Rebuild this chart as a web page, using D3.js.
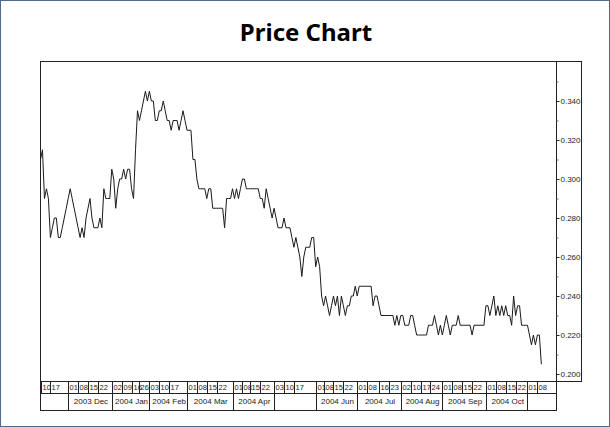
<!DOCTYPE html>
<html>
<head>
<meta charset="utf-8">
<script src="https://cdn.jsdelivr.net/npm/d3@7"></script>
<style>
  html, body { margin: 0; padding: 0; background: #fff; }
  svg { display: block; }
  .small { font-family: "Liberation Sans", Arial, sans-serif; font-size: 8px; fill: #222; }
  .wk { font-size: 7.5px; }
</style>
</head>
<body>
<svg id="chart" width="610" height="427"></svg>
<script>
// daily closing prices, one per trading day from 2003-11-10
const closePrices = [
  0.310, 0.315, 0.290, 0.295, 0.290, 0.270, 0.275, 0.280, 0.280, 0.270,
  0.270, 0.275, 0.280, 0.285, 0.290, 0.295, 0.290, 0.285, 0.280, 0.275,
  0.270, 0.275, 0.270, 0.280, 0.285, 0.290, 0.280, 0.275, 0.275, 0.275,
  0.280, 0.275, 0.295, 0.290, 0.290, 0.290, 0.305, 0.300, 0.285, 0.295,
  0.300, 0.300, 0.305, 0.300, 0.305, 0.305, 0.295, 0.290, 0.315, 0.335,
  0.330, 0.335, 0.340, 0.345, 0.340, 0.345, 0.340, 0.340, 0.330, 0.330,
  0.335, 0.335, 0.340, 0.335, 0.330, 0.330, 0.325, 0.330, 0.330, 0.330,
  0.325, 0.330, 0.335, 0.330, 0.325, 0.325, 0.325, 0.310, 0.310, 0.300,
  0.295, 0.295, 0.295, 0.295, 0.290, 0.295, 0.295, 0.285, 0.285, 0.285,
  0.285, 0.285, 0.285, 0.275, 0.290, 0.290, 0.290, 0.295, 0.290, 0.295,
  0.290, 0.295, 0.300, 0.300, 0.295, 0.295, 0.295, 0.295, 0.295, 0.295,
  0.295, 0.290, 0.290, 0.285, 0.295, 0.290, 0.285, 0.280, 0.285, 0.280,
  0.275, 0.275, 0.275, 0.280, 0.275, 0.275, 0.275, 0.270, 0.265, 0.270,
  0.265, 0.260, 0.250, 0.260, 0.265, 0.265, 0.265, 0.270, 0.270, 0.255,
  0.260, 0.255, 0.240, 0.235, 0.240, 0.235, 0.230, 0.235, 0.240, 0.235,
  0.240, 0.230, 0.240, 0.235, 0.230, 0.235, 0.235, 0.240, 0.240, 0.245,
  0.240, 0.245, 0.245, 0.245, 0.245, 0.245, 0.245, 0.245, 0.235, 0.240,
  0.240, 0.235, 0.230, 0.230, 0.230, 0.230, 0.230, 0.230, 0.230, 0.225,
  0.230, 0.225, 0.230, 0.230, 0.225, 0.225, 0.225, 0.230, 0.230, 0.225,
  0.220, 0.220, 0.220, 0.220, 0.220, 0.220, 0.225, 0.225, 0.225, 0.230,
  0.225, 0.220, 0.225, 0.220, 0.225, 0.230, 0.225, 0.220, 0.225, 0.225,
  0.225, 0.230, 0.225, 0.225, 0.225, 0.225, 0.225, 0.225, 0.220, 0.225,
  0.225, 0.225, 0.225, 0.225, 0.225, 0.235, 0.235, 0.230, 0.235, 0.240,
  0.230, 0.235, 0.230, 0.235, 0.230, 0.235, 0.230, 0.230, 0.225, 0.240,
  0.230, 0.235, 0.235, 0.225, 0.225, 0.225, 0.225, 0.220, 0.215, 0.220,
  0.215, 0.220, 0.220, 0.205
];

// exchange holidays falling on weekdays
const holidays = [
  '2003-11-25', '2003-12-25', '2004-01-01', '2004-01-22', '2004-01-23',
  '2004-02-02', '2004-04-09', '2004-06-02', '2004-08-09'
];

// weekly labels in the first date row
const weekTicks = [
  '2003-11-10', '2003-11-17',
  '2003-12-01', '2003-12-08', '2003-12-15', '2003-12-22',
  '2004-01-02', '2004-01-09', '2004-01-16', '2004-01-26',
  '2004-02-03', '2004-02-10', '2004-02-17',
  '2004-03-01', '2004-03-08', '2004-03-15', '2004-03-22',
  '2004-04-01', '2004-04-08', '2004-04-15', '2004-04-22',
  '2004-05-03', '2004-05-10', '2004-05-17',
  '2004-06-01', '2004-06-08', '2004-06-15', '2004-06-22',
  '2004-07-01', '2004-07-08', '2004-07-16', '2004-07-23',
  '2004-08-02', '2004-08-10', '2004-08-17', '2004-08-24',
  '2004-09-01', '2004-09-08', '2004-09-15', '2004-09-22',
  '2004-10-01', '2004-10-08', '2004-10-15', '2004-10-22',
  '2004-11-01', '2004-11-08'
];

// month cells in the second date row
const monthStarts = [
  '2003-11-10', '2003-12-01', '2004-01-02', '2004-02-03', '2004-03-01', '2004-04-01',
  '2004-05-03', '2004-06-01', '2004-07-01', '2004-08-02', '2004-09-01', '2004-10-01', '2004-11-01'
];
const monthLabels = [
  '', '2003 Dec', '2004 Jan', '2004 Feb', '2004 Mar', '2004 Apr',
  '', '2004 Jun', '2004 Jul', '2004 Aug', '2004 Sep', '2004 Oct', ''
];

const yMajorTicks = [0.200, 0.220, 0.240, 0.260, 0.280, 0.300, 0.320, 0.340];
const yMinorTicks = [0.210, 0.230, 0.250, 0.270, 0.290, 0.310, 0.330, 0.350];

const plot = { left: 40, right: 556, top: 61, bottom: 381 };
const axisBoxRight = 581;
const row1Bottom = 393, row2Bottom = 410;

const parse = d3.timeParse('%Y-%m-%d');
const fmt = d3.timeFormat('%Y-%m-%d');
const holidaySet = new Set(holidays);
const tradingDays = d3.timeDay.range(parse('2003-11-10'), parse('2004-11-30'))
  .filter(d => d.getDay() !== 0 && d.getDay() !== 6 && !holidaySet.has(fmt(d)));
const dayIndex = new Map(tradingDays.map((d, i) => [fmt(d), i]));

const svg = d3.select('#chart');

const x = d3.scaleLinear()
  .domain([0, closePrices.length - 1 + 7.4])
  .range([plot.left + 0.5, plot.right]);

const y = d3.scaleLinear()
  .domain([0.200, 0.340])
  .range([374, 101]);

// outer frame
svg.append('rect')
  .attr('x', 0.5).attr('y', 0.5)
  .attr('width', 609).attr('height', 426)
  .attr('fill', '#fff')
  .attr('stroke', '#52698f');

svg.append('text')
  .attr('x', 306).attr('y', 41)
  .attr('text-anchor', 'middle')
  .style('font-family', '"Noto Sans", Tahoma, sans-serif')
  .style('font-weight', 'bold')
  .style('font-size', '24px')
  .attr('fill', '#000')
  .text('Price Chart');

// plot box + right axis box
svg.append('rect')
  .attr('x', plot.left + 0.5).attr('y', plot.top + 0.5)
  .attr('width', axisBoxRight - plot.left).attr('height', plot.bottom - plot.top)
  .attr('fill', 'none').attr('stroke', '#222');
svg.append('line')
  .attr('x1', plot.right + 0.5).attr('x2', plot.right + 0.5)
  .attr('y1', plot.top).attr('y2', plot.bottom)
  .attr('stroke', '#222');

// price line
const line = d3.line()
  .x((d, i) => x(i))
  .y(d => y(d));

svg.append('path')
  .datum(closePrices)
  .attr('d', line)
  .attr('fill', 'none')
  .attr('stroke', '#1a1a1a')
  .attr('stroke-width', 1);

// right axis
const yAxis = svg.append('g')
  .attr('transform', `translate(${plot.right + 0.5},0)`)
  .call(d3.axisRight(y).tickValues(yMajorTicks).tickSize(3).tickPadding(1).tickFormat(d3.format('.3f')));
yAxis.select('.domain').remove();
yAxis.selectAll('text').attr('class', 'small').attr('fill', null);
yAxis.selectAll('line').attr('stroke', '#222');

const yMinor = svg.append('g')
  .attr('transform', `translate(${plot.right + 0.5},0)`)
  .call(d3.axisRight(y).tickValues(yMinorTicks.filter(v => y(v) > plot.top)).tickSize(2).tickFormat(''));
yMinor.select('.domain').remove();
yMinor.selectAll('line').attr('stroke', '#666');

// date rows
const rows = svg.append('g');
rows.append('rect')
  .attr('x', plot.left + 0.5).attr('y', plot.bottom + 0.5)
  .attr('width', plot.right - plot.left).attr('height', row2Bottom - plot.bottom)
  .attr('fill', 'none').attr('stroke', '#222');
rows.append('line')
  .attr('x1', plot.left).attr('x2', plot.right)
  .attr('y1', row1Bottom + 0.5).attr('y2', row1Bottom + 0.5)
  .attr('stroke', '#222');

const weeks = weekTicks.map(d => ({ i: dayIndex.get(d), label: d.slice(8) }));
rows.selectAll('line.wk').data(weeks).join('line')
  .attr('class', 'wk')
  .attr('x1', d => Math.round(x(d.i)) + 0.5).attr('x2', d => Math.round(x(d.i)) + 0.5)
  .attr('y1', plot.bottom).attr('y2', row1Bottom)
  .attr('stroke', '#222');
rows.selectAll('text.wk').data(weeks).join('text')
  .attr('class', 'wk small')
  .attr('x', d => Math.round(x(d.i)) + 1.5)
  .attr('y', row1Bottom - 3)
  .text(d => d.label);

const months = monthStarts.map((d, k) => ({
  i0: dayIndex.get(d),
  i1: k + 1 < monthStarts.length ? dayIndex.get(monthStarts[k + 1]) : null,
  label: monthLabels[k]
}));
rows.selectAll('line.mo').data(months.slice(1)).join('line')
  .attr('class', 'mo')
  .attr('x1', d => Math.round(x(d.i0)) + 0.5).attr('x2', d => Math.round(x(d.i0)) + 0.5)
  .attr('y1', row1Bottom).attr('y2', row2Bottom)
  .attr('stroke', '#222');
rows.selectAll('text.mo').data(months.filter(d => d.label && d.i1 != null)).join('text')
  .attr('class', 'mo small')
  .attr('text-anchor', 'middle')
  .attr('x', d => (x(d.i0) + x(d.i1)) / 2 + 1)
  .attr('y', row2Bottom - 6)
  .text(d => d.label);
</script>
</body>
</html>
